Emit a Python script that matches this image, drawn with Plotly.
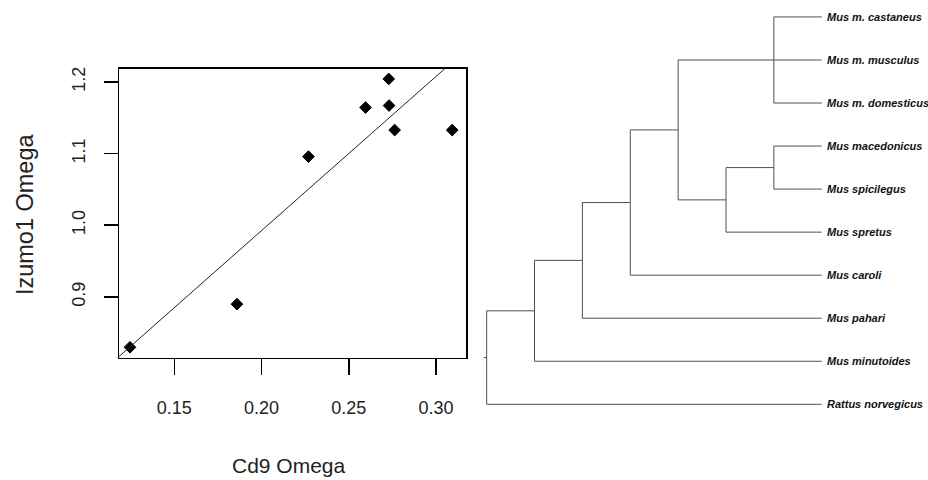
import plotly.graph_objects as go

# ---------------- data ----------------
cd9_omega = [0.1246, 0.1859, 0.2269, 0.2596, 0.2729, 0.2731, 0.2763, 0.3093]
izumo1_omega = [0.8296, 0.8898, 1.0958, 1.1643, 1.2042, 1.1671, 1.1328, 1.1328]
# fitted line
fit_intercept = 0.5621
fit_slope = 2.152
x_ticks = [0.15, 0.20, 0.25, 0.30]
x_tick_labels = ["0.15", "0.20", "0.25", "0.30"]
y_ticks = [0.9, 1.0, 1.1, 1.2]
y_tick_labels = ["0.9", "1.0", "1.1", "1.2"]

# phylogeny (nested tuples, tips in plotting order top -> bottom)
tree = (((((("Mus m. castaneus", "Mus m. musculus", "Mus m. domesticus"),
            (("Mus macedonicus", "Mus spicilegus"), "Mus spretus")),
           "Mus caroli"),
          "Mus pahari"),
         "Mus minutoides"),
        "Rattus norvegicus")

# ---------------- figure ----------------
W, H = 928, 480
FONT = "Liberation Sans, Arial, sans-serif"
X_RANGE = [0.1183, 0.3172]
Y_RANGE = [0.8153, 1.2185]

fig = go.Figure()

# scatter points
fig.add_trace(go.Scatter(
    x=cd9_omega, y=izumo1_omega, mode="markers",
    marker=dict(symbol="diamond", size=9, color="black",
                line=dict(color="black", width=1)),
    xaxis="x", yaxis="y", showlegend=False, hoverinfo="skip"))

# regression line across the plot region
fig.add_trace(go.Scatter(
    x=X_RANGE, y=[fit_intercept + fit_slope * v for v in X_RANGE], mode="lines",
    line=dict(color="#222222", width=1),
    xaxis="x", yaxis="y", showlegend=False, hoverinfo="skip"))

# ---------------- dendrogram layout ----------------
tips = []


def collect(node):
    if isinstance(node, str):
        tips.append(node)
    else:
        for c in node:
            collect(c)


collect(tree)


def height(node):
    if isinstance(node, str):
        return 0
    return 1 + max(height(c) for c in node)


max_h = height(tree)
seg_x, seg_y = [], []


def layout(node):
    if isinstance(node, str):
        return max_h, tips.index(node)
    xs, ys = zip(*[layout(c) for c in node])
    nx = max_h - height(node)
    ny = sum(ys) / len(ys)
    seg_x.extend([nx, nx, None])
    seg_y.extend([min(ys), max(ys), None])
    for cx, cy in zip(xs, ys):
        seg_x.extend([nx, cx, None])
        seg_y.extend([cy, cy, None])
    return nx, ny


root_x, root_y = layout(tree)
seg_x.extend([root_x - 0.06, root_x, None])
seg_y.extend([root_y, root_y, None])

fig.add_trace(go.Scatter(
    x=seg_x, y=seg_y, mode="lines",
    line=dict(color="#505050", width=1),
    xaxis="x2", yaxis="y2", showlegend=False, hoverinfo="skip"))

annotations = []
for i, name in enumerate(tips):
    annotations.append(dict(
        x=max_h, y=i, xref="x2", yref="y2", text="<b><i>%s</i></b>" % name,
        showarrow=False, xanchor="left", yanchor="middle", xshift=3,
        font=dict(family=FONT, size=11, color="#111111")))

# axis titles
annotations.append(dict(
    x=289 / W, y=1 - 465 / H, xref="paper", yref="paper", text="Cd9 Omega",
    showarrow=False, xanchor="center", yanchor="middle",
    font=dict(family=FONT, size=21, color="#222222")))
annotations.append(dict(
    x=25 / W, y=1 - 213 / H, xref="paper", yref="paper", text="Izumo1 Omega",
    showarrow=False, xanchor="center", yanchor="middle", textangle=-90,
    font=dict(family=FONT, size=23.5, color="#222222")))

fig.update_layout(
    width=W, height=H,
    margin=dict(l=0, r=0, t=0, b=0),
    paper_bgcolor="white", plot_bgcolor="rgba(0,0,0,0)",
    annotations=annotations,
    xaxis=dict(
        domain=[119 / W, 466 / W], range=X_RANGE,
        showgrid=False, zeroline=False,
        showline=True, linecolor="black", linewidth=1.5, mirror=True,
        ticks="outside", ticklen=16, tickwidth=1.5, tickcolor="black",
        tickvals=x_ticks, ticktext=x_tick_labels, ticklabelstandoff=17,
        tickfont=dict(family=FONT, size=18, color="#222222")),
    yaxis=dict(
        domain=[1 - 357 / H, 1 - 67 / H], range=Y_RANGE,
        showgrid=False, zeroline=False,
        showline=True, linecolor="black", linewidth=1.5, mirror=True,
        ticks="outside", ticklen=14, tickwidth=1.5, tickcolor="black",
        tickvals=y_ticks, ticktext=y_tick_labels, tickangle=-90,
        ticklabelstandoff=11,
        tickfont=dict(family=FONT, size=18, color="#222222")),
    xaxis2=dict(
        domain=[438.8 / W, 869.6 / W], range=[-1, 8], visible=False,
        showgrid=False, zeroline=False),
    yaxis2=dict(
        domain=[1 - 425.6 / H, 1 - 2.03 / H], range=[9.5, -0.3], visible=False,
        showgrid=False, zeroline=False, anchor="x2"),
)

fig.write_html("out.html",
               config={"displayModeBar": False, "staticPlot": True},
               post_script="document.body.style.margin='0';"
                           "document.body.style.overflow='hidden';")
